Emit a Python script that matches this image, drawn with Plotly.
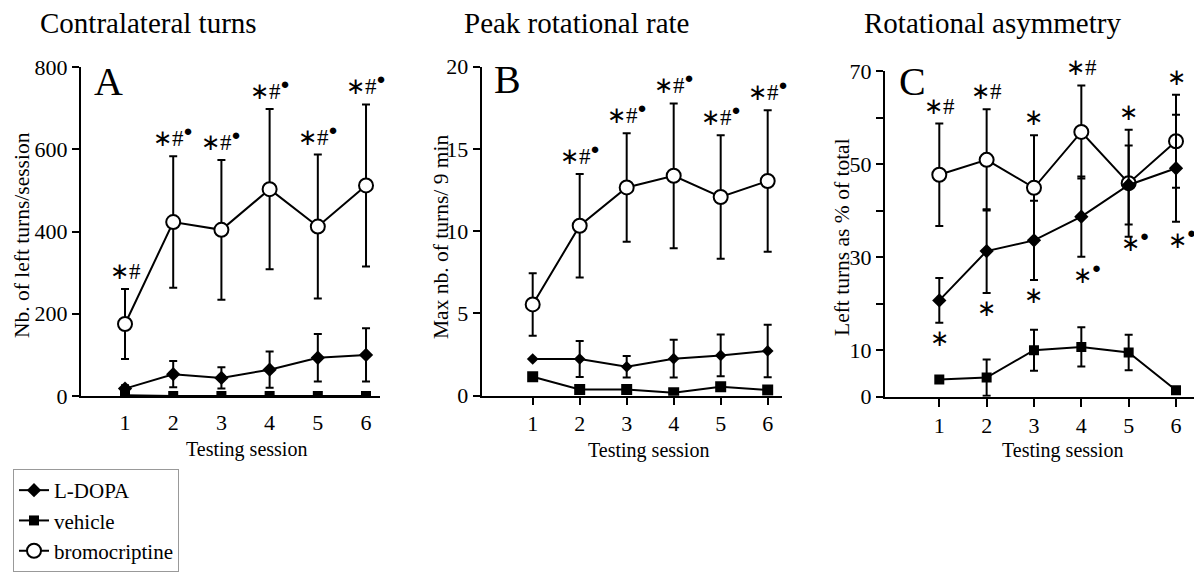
import plotly.graph_objects as go

sessions = [1, 2, 3, 4, 5, 6]

# Panel A: contralateral turns (Nb. of left turns/session)
a_ldopa = [18, 53, 44, 64, 93, 100]
a_ldopa_err = [8, 32, 26, 44, 58, 65]
a_vehicle = [2, 0, 0, 0, 0, 0]
a_vehicle_err = [0, 0, 0, 0, 0, 0]
a_bromo = [175, 423, 404, 503, 412, 512]
a_bromo_err = [85, 160, 170, 195, 175, 197]
a_above = ["∗#", "∗#•", "∗#•", "∗#•", "∗#•", "∗#•"]

# Panel B: peak rotational rate (Max nb. of turns/ 9 min)
b_ldopa = [2.23, 2.23, 1.76, 2.25, 2.45, 2.72]
b_ldopa_err = [0.0, 1.1, 0.65, 1.15, 1.27, 1.6]
b_vehicle = [1.15, 0.38, 0.38, 0.18, 0.55, 0.34]
b_vehicle_err = [0, 0, 0, 0, 0, 0]
b_bromo = [5.55, 10.33, 12.66, 13.37, 12.08, 13.05]
b_bromo_err = [1.9, 3.15, 3.3, 4.4, 3.75, 4.3]
b_above = ["", "∗#•", "∗#•", "∗#•", "∗#•", "∗#•"]

# Panel C: rotational asymmetry (Left turns as % of total)
c_ldopa = [20.7, 31.3, 33.6, 38.7, 45.5, 49.1]
c_ldopa_err = [4.8, 9.0, 8.5, 8.6, 8.5, 11.5]
c_vehicle = [3.7, 4.1, 10.0, 10.7, 9.5, 1.4]
c_vehicle_err = [0, 3.9, 4.4, 4.2, 3.8, 0]
c_bromo = [47.7, 50.9, 44.9, 56.9, 45.9, 54.9]
c_bromo_err = [11.0, 10.9, 11.3, 10.0, 11.5, 10.0]
c_above = ["∗#", "∗#", "∗", "∗#", "∗", "∗"]
c_below = ["∗", "∗", "∗", "∗•", "∗•", "∗•"]

titles = ["Contralateral turns", "Peak rotational rate", "Rotational asymmetry"]
letters = ["A", "B", "C"]
ytitles = ["Nb. of left turns/session", "Max nb. of turns/ 9 min", "Left turns as % of total"]
xtitle = "Testing session"
names = ["L-DOPA", "vehicle", "bromocriptine"]

W, H = 1194, 572
FONT = "Liberation Serif, Times New Roman, serif"
BULLET = "<sup><span style='font-size:15px'>●</span></sup>"


def px_x(p):
    return p / W


def px_y(p):
    return 1 - p / H


fig = go.Figure()

panels = [
    dict(ld=a_ldopa, lde=a_ldopa_err, ve=a_vehicle, vee=a_vehicle_err, br=a_bromo, bre=a_bromo_err,
         above=a_above, below=None, dsize=11, ssize=10),
    dict(ld=b_ldopa, lde=b_ldopa_err, ve=b_vehicle, vee=b_vehicle_err, br=b_bromo, bre=b_bromo_err,
         above=b_above, below=None, dsize=9, ssize=11),
    dict(ld=c_ldopa, lde=c_ldopa_err, ve=c_vehicle, vee=c_vehicle_err, br=c_bromo, bre=c_bromo_err,
         above=c_above, below=c_below, dsize=11, ssize=10),
]


def err(arr):
    return dict(type="data", array=arr, visible=True, color="black", thickness=2, width=4)


for i, p in enumerate(panels):
    ax = "" if i == 0 else str(i + 1)
    xr, yr = "x" + ax, "y" + ax
    fig.add_trace(go.Scatter(
        x=sessions, y=p["br"], error_y=err(p["bre"]), mode="lines+markers", name=names[2],
        line=dict(color="black", width=2),
        marker=dict(symbol="circle", size=14, color="white", line=dict(color="black", width=2)),
        xaxis=xr, yaxis=yr, showlegend=(i == 0), legendrank=3))
    fig.add_trace(go.Scatter(
        x=sessions, y=p["ve"], error_y=err(p["vee"]), mode="lines+markers", name=names[1],
        line=dict(color="black", width=2),
        marker=dict(symbol="square", size=p["ssize"], color="black"),
        xaxis=xr, yaxis=yr, showlegend=(i == 0), legendrank=2))
    fig.add_trace(go.Scatter(
        x=sessions, y=p["ld"], error_y=err(p["lde"]), mode="lines+markers", name=names[0],
        line=dict(color="black", width=2),
        marker=dict(symbol="diamond", size=p["dsize"], color="black"),
        xaxis=xr, yaxis=yr, showlegend=(i == 0), legendrank=1))
    for s, yv, e, t in zip(sessions, p["br"], p["bre"], p["above"]):
        if t:
            fig.add_annotation(x=s, y=yv + e, xref=xr, yref=yr, text=t.replace("•", BULLET),
                               showarrow=False, yanchor="bottom", xanchor="center", yshift=3,
                               font=dict(family=FONT, size=23, color="black"))
    if p["below"]:
        for s, yv, e, t in zip(sessions, p["ld"], p["lde"], p["below"]):
            fig.add_annotation(x=s, y=yv - e, xref=xr, yref=yr, text=t.replace("•", BULLET),
                               showarrow=False, yanchor="top", xanchor="center", yshift=-1,
                               xshift=(6 if "•" in t else 0),
                               font=dict(family=FONT, size=23, color="black"))

axis_common = dict(showline=True, linecolor="black", linewidth=2, showgrid=False, zeroline=False,
                   automargin=False,
                   tickfont=dict(family=FONT, size=22, color="black"), tickcolor="black", tickwidth=2)

# pixel geometry
xdoms = [(81, 380), (481.7, 781.7), (885, 1194)]
xranges = [(0.087, 6.29), (-0.085, 6.298), (-0.147, 6.38)]
ydoms = [(396, 67), (395.7, 66.7), (396.7, 71)]
yranges = [(0, 800), (0, 20), (0, 70)]
ytickvals = [[0, 200, 400, 600, 800], [0, 5, 10, 15, 20], [0, 10, 20, 30, 40, 50, 60, 70]]
yticktext = [["0", "200", "400", "600", "800"], ["0", "5", "10", "15", "20"],
             ["0", "10", "", "30", "", "50", "", "70"]]
xticklen = [0, 7, 8]

layout = {}
for i in range(3):
    ax = "" if i == 0 else str(i + 1)
    layout["xaxis" + ax] = dict(axis_common, domain=[px_x(xdoms[i][0]), px_x(xdoms[i][1])],
                                range=list(xranges[i]), tickvals=sessions,
                                ticks="outside" if xticklen[i] else "", ticklen=xticklen[i],
                                ticklabelstandoff=(6 if i == 0 else 0),
                                anchor="y" + ax, fixedrange=True)
    layout["yaxis" + ax] = dict(axis_common, domain=[px_y(ydoms[i][0]), px_y(ydoms[i][1])],
                                range=list(yranges[i]), tickvals=ytickvals[i], ticktext=yticktext[i],
                                ticks="outside", ticklen=7, anchor="x" + ax, fixedrange=True)

fig.update_layout(**layout)

title_pos = [148, 576, 992]
letter_pos = [(108, 82), (508, 79), (912, 81)]
ytitle_pos = [(22, 235), (441, 237), (842, 237)]
xtitle_pos = [(246, 449), (648, 450), (1062, 450)]

for i in range(3):
    fig.add_annotation(x=px_x(title_pos[i]), y=px_y(23), xref="paper", yref="paper", text=titles[i],
                       showarrow=False, xanchor="center", yanchor="middle",
                       font=dict(family=FONT, size=29, color="black"))
    fig.add_annotation(x=px_x(letter_pos[i][0]), y=px_y(letter_pos[i][1]), xref="paper", yref="paper",
                       text=letters[i], showarrow=False, xanchor="center", yanchor="middle",
                       font=dict(family=FONT, size=40, color="black"))
    fig.add_annotation(x=px_x(ytitle_pos[i][0]), y=px_y(ytitle_pos[i][1]), xref="paper", yref="paper",
                       text=ytitles[i], showarrow=False, xanchor="center", yanchor="middle", textangle=-90,
                       font=dict(family=FONT, size=21.5, color="black"))
    fig.add_annotation(x=px_x(xtitle_pos[i][0]), y=px_y(xtitle_pos[i][1]), xref="paper", yref="paper",
                       text=xtitle, showarrow=False, xanchor="center", yanchor="middle",
                       font=dict(family=FONT, size=20, color="black"))

fig.update_layout(
    template="none",
    width=W, height=H, margin=dict(l=0, r=0, t=0, b=0, pad=0), autosize=False,
    paper_bgcolor="white", plot_bgcolor="white",
    font=dict(family=FONT, color="black"),
    showlegend=True,
    legend=dict(x=px_x(13), y=0, xanchor="left", yanchor="bottom",
                bordercolor="#999", borderwidth=1, bgcolor="white",
                font=dict(family=FONT, size=21, color="black"), itemwidth=30,
                tracegroupgap=0),
)

fig.write_html("out.html", config={"displayModeBar": False},
               post_script="document.body.style.margin='0px';")
